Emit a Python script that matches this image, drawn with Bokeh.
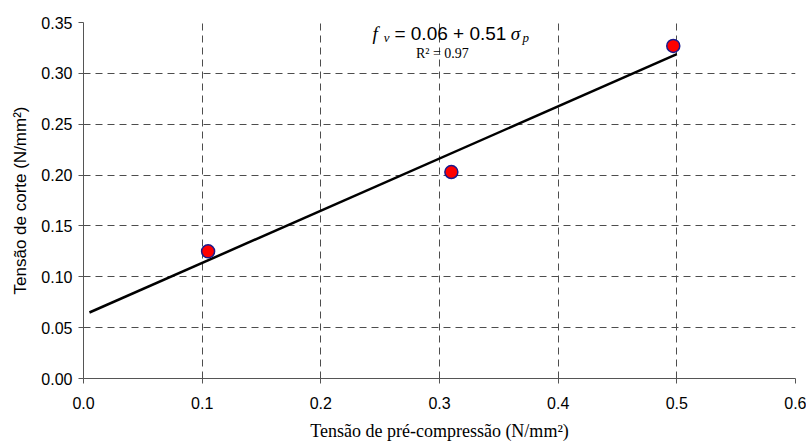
import numpy as np
from bokeh.plotting import figure
from bokeh.models import Range1d, FixedTicker, NumeralTickFormatter, Label
from bokeh.embed import file_html
from bokeh.resources import INLINE

# data
pre_compression = [0.105, 0.310, 0.497]
shear_stress = [0.125, 0.203, 0.327]
fit_x = [0.005, 0.5]
x_ticks = [0.0, 0.1, 0.2, 0.3, 0.4, 0.5, 0.6]
y_ticks = [0.0, 0.05, 0.10, 0.15, 0.20, 0.25, 0.30, 0.35]
x_title = "Tensão de pré-compressão (N/mm²)"
y_title = "Tensão de corte (N/mm²)"
r2_text = "R² = 0.97"

slope, intercept = np.polyfit(pre_compression, shear_stress, 1)
fit_y = [intercept + slope * v for v in fit_x]

p = figure(width=806, height=443, output_backend="svg", toolbar_location=None,
           x_range=Range1d(0, 0.6), y_range=Range1d(0, 0.35),
           min_border_left=83, min_border_right=11, min_border_top=22, min_border_bottom=63)
p.outline_line_color = None
p.background_fill_color = "white"

for ax in (p.xaxis[0], p.yaxis[0]):
    ax.axis_line_color = "#555555"
    ax.major_tick_line_color = "#555555"
    ax.minor_tick_line_color = None
    ax.major_tick_in = 0
    ax.major_tick_out = 5
    ax.major_label_text_font = "Liberation Sans"
    ax.major_label_text_font_size = "16px"
    ax.major_label_text_color = "black"
    ax.axis_label_text_font_style = "normal"
    ax.axis_label_text_color = "black"

p.xaxis.ticker = FixedTicker(ticks=x_ticks)
p.yaxis.ticker = FixedTicker(ticks=y_ticks)
p.xaxis.formatter = NumeralTickFormatter(format="0.0")
p.yaxis.formatter = NumeralTickFormatter(format="0.00")
p.xaxis.major_label_standoff = 13
p.yaxis.major_label_standoff = 6

p.xaxis.axis_label = x_title
p.xaxis.axis_label_text_font = "Liberation Serif"
p.xaxis.axis_label_text_font_size = "18px"
p.xaxis.axis_label_standoff = 9
p.yaxis.axis_label = y_title
p.yaxis.axis_label_text_font = "Liberation Sans"
p.yaxis.axis_label_text_font_size = "17px"
p.yaxis.axis_label_standoff = 8

p.grid.grid_line_color = "#4d4d4d"
p.grid.grid_line_dash = "7 5"
p.grid.grid_line_width = 1

p.line(fit_x, fit_y, line_color="black", line_width=2.5)
p.scatter(pre_compression, shear_stress, size=13, fill_color="#ff0000",
          line_color="#1a1a8c", line_width=1.5)

# equation annotation
eq_parts = [
    ("f", 0.2435, 0.339, "Liberation Serif", "italic", "19px"),
    ("v", 0.2530, 0.3350, "Liberation Serif", "italic", "13px"),
    ("= 0.06 + 0.51", 0.2620, 0.339, "Liberation Sans", "normal", "19px"),
    ("σ", 0.3600, 0.339, "Liberation Serif", "italic", "19px"),
    ("p", 0.3700, 0.3350, "Liberation Serif", "italic", "13px"),
]
for txt, xx, yy, font, style, size in eq_parts:
    p.add_layout(Label(x=xx, y=yy, text=txt, text_font=font, text_font_style=style,
                       text_font_size=size, text_baseline="alphabetic", text_align="left",
                       text_color="black"))
p.add_layout(Label(x=0.3024, y=0.3196, text=r2_text, text_font="Liberation Serif",
                   text_font_size="14px", text_baseline="alphabetic", text_align="center",
                   text_color="black"))

open("out.html", "w").write(file_html(p, INLINE))
